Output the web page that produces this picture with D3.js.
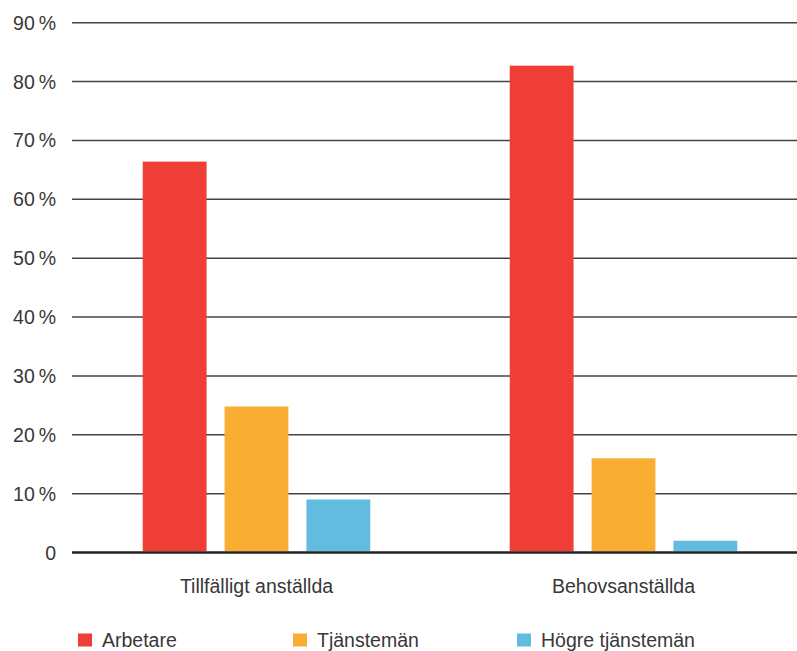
<!DOCTYPE html>
<html lang="sv">
<head>
    <meta charset="UTF-8">
    <title>Tillfälligt anställda och behovsanställda</title>
    <script src="https://d3js.org/d3.v7.min.js"></script>
    <style>
        body {
            margin: 0;
            background: #fff;
        }
        svg {
            display: block;
        }
        text {
            font-family: 'Liberation Sans', Arial, sans-serif;
            fill: #383838;
        }
    </style>
</head>
<body>
    <svg id="chart"></svg>

    <script>
        // data
        const categories = ["Tillfälligt anställda", "Behovsanställda"];
        const seriesNames = ["Arbetare", "Tjänstemän", "Högre tjänstemän"];
        const seriesColors = ["#ef3e36", "#f9ae33", "#62bce0"];
        const arbetare = [66.4, 82.7];
        const tjansteman = [24.8, 16.0];
        const hogreTjansteman = [9.0, 2.0];
        const yTicks = [0, 10, 20, 30, 40, 50, 60, 70, 80, 90];

        const width = 797;
        const height = 651;

        const values = [arbetare, tjansteman, hogreTjansteman];
        const rows = categories.map((c, i) => ({
            category: c,
            bars: seriesNames.map((s, j) => ({ series: s, value: values[j][i], color: seriesColors[j] }))
        }));

        const svg = d3.select("#chart")
            .attr("width", width)
            .attr("height", height);

        const y = d3.scaleLinear()
            .domain([0, 90])
            .range([552.5, 22.7]);

        const x0 = d3.scaleBand()
            .domain(categories)
            .range([73, 807])
            .paddingInner(0.38)
            .paddingOuter(0.19);

        const x1 = d3.scaleBand()
            .domain(seriesNames)
            .range([0, x0.bandwidth()])
            .paddingInner(0.22)
            .paddingOuter(0);

        // gridlines + tick labels
        const grid = svg.append("g");
        grid.selectAll("line")
            .data(yTicks.filter(d => d > 0))
            .enter().append("line")
            .attr("x1", 72)
            .attr("x2", width)
            .attr("y1", d => y(d))
            .attr("y2", d => y(d))
            .attr("stroke", "#444")
            .attr("stroke-width", 1.5);

        grid.selectAll("text")
            .data(yTicks)
            .enter().append("text")
            .attr("x", 56)
            .attr("y", d => y(d) + 7)
            .attr("text-anchor", "end")
            .style("font-size", "19.5px")
            .text(d => d === 0 ? "0" : d + "\u2009%");

        // bars
        const groups = svg.append("g")
            .selectAll("g")
            .data(rows)
            .enter().append("g")
            .attr("transform", d => `translate(${x0(d.category)},0)`);

        groups.selectAll("rect")
            .data(d => d.bars)
            .enter().append("rect")
            .attr("x", d => x1(d.series))
            .attr("width", x1.bandwidth())
            .attr("y", d => y(d.value))
            .attr("height", d => y(0) - 1.2 - y(d.value))
            .attr("fill", d => d.color);

        // zero line
        svg.append("line")
            .attr("x1", 72)
            .attr("x2", width)
            .attr("y1", y(0))
            .attr("y2", y(0))
            .attr("stroke", "#222")
            .attr("stroke-width", 2.6);

        // category labels
        svg.append("g")
            .selectAll("text")
            .data(categories)
            .enter().append("text")
            .attr("x", d => x0(d) + x0.bandwidth() / 2)
            .attr("y", 592.5)
            .attr("text-anchor", "middle")
            .style("font-size", "19.5px")
            .text(d => d);

        // legend (sits at the very bottom edge, as in the reference)
        const legendX = [78, 293, 517];
        const legend = svg.append("g")
            .selectAll("g")
            .data(seriesNames)
            .enter().append("g")
            .attr("transform", (d, i) => `translate(${legendX[i]},633.5)`);

        legend.append("rect")
            .attr("width", 14)
            .attr("height", 13)
            .attr("fill", (d, i) => seriesColors[i]);

        legend.append("text")
            .attr("x", 24)
            .attr("y", 13.5)
            .style("font-size", "19.5px")
            .text(d => d);
    </script>
</body>
</html>
